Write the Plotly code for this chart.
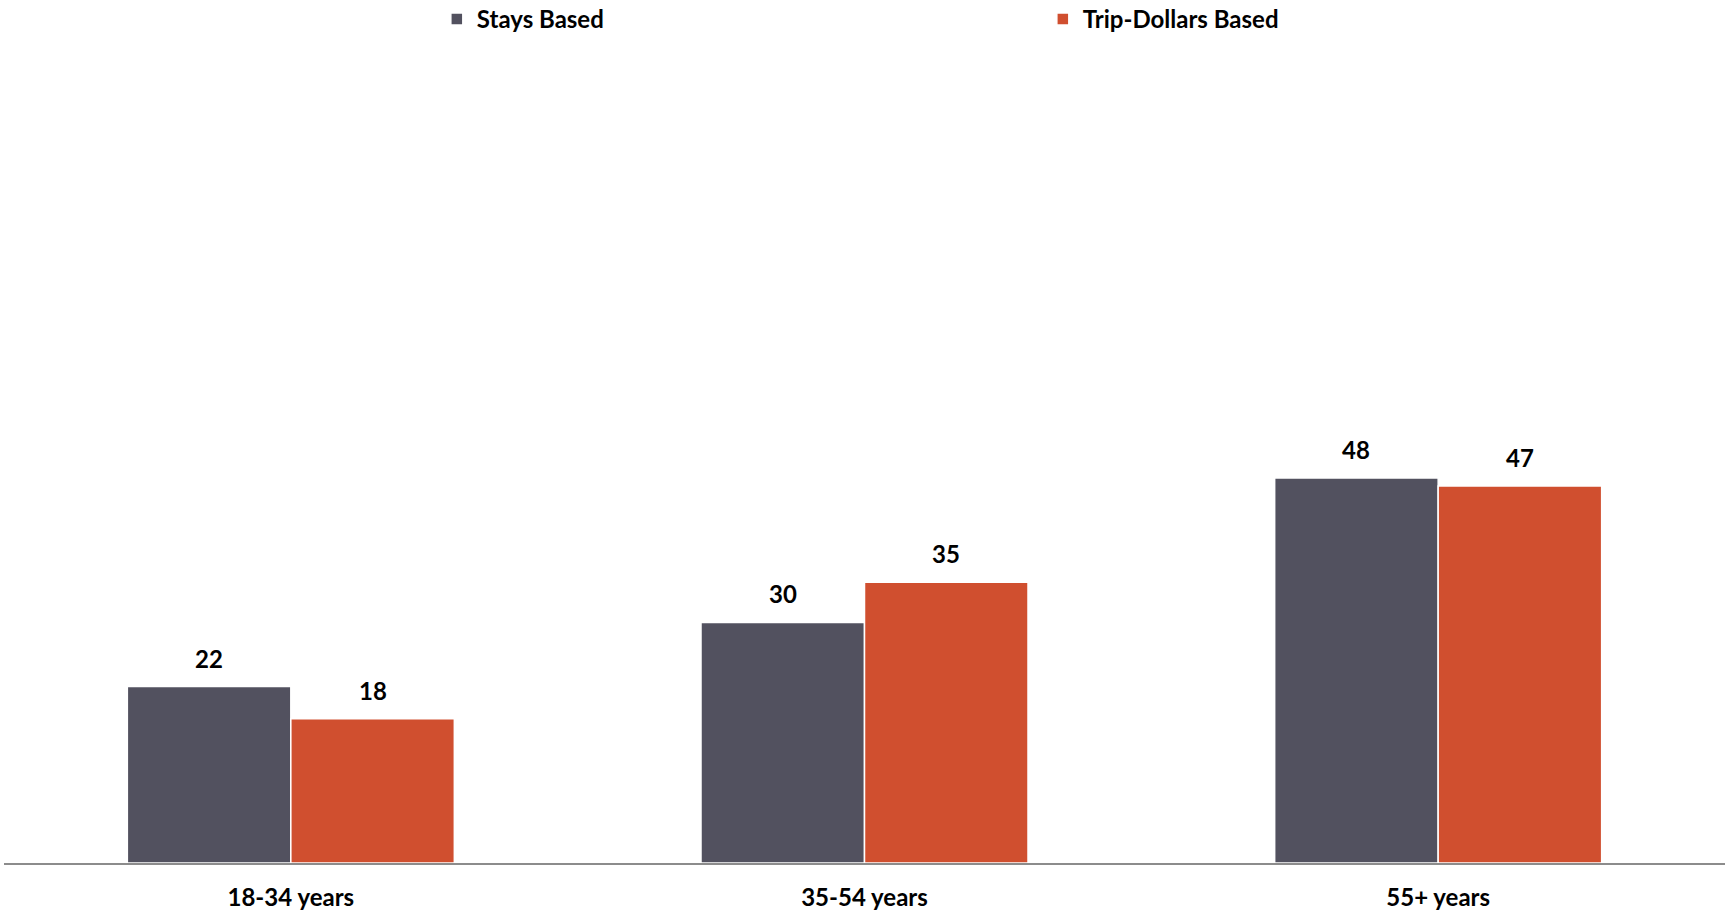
import plotly.graph_objects as go

categories = ["18-34 years", "35-54 years", "55+ years"]
stays_based = [22, 30, 48]
trip_dollars_based = [18, 35, 47]

FONT = "Lato"
BARGAP = 0.43
fig = go.Figure()
fig.add_trace(go.Bar(
    name="Stays Based", x=categories, y=stays_based,
    marker=dict(color="#52515f", line=dict(color="white", width=1.5)),
))
fig.add_trace(go.Bar(
    name="Trip-Dollars Based", x=categories, y=trip_dollars_based,
    marker=dict(color="#d04f2f", line=dict(color="white", width=1.5)),
))

W, H = 1729, 912
ML, MR = 4, 4
plot_w = W - ML - MR
bar_px = plot_w / len(categories) * (1 - BARGAP) / 2
for vals, sign in ((stays_based, -1), (trip_dollars_based, 1)):
    for c, v in zip(categories, vals):
        fig.add_annotation(
            x=c, y=v, xref="x", yref="y", text=str(v), showarrow=False,
            xshift=sign * bar_px / 2, yanchor="bottom", yshift=12,
            font=dict(family=FONT, size=24, color="black", weight="bold"),
        )

fig.update_layout(
    width=W, height=H,
    margin=dict(l=ML, r=MR, t=61, b=49, autoexpand=False),
    paper_bgcolor="white", plot_bgcolor="white",
    barmode="group", bargap=BARGAP, bargroupgap=0,
    font=dict(family=FONT, size=24, color="black"),
    legend=dict(
        orientation="h", x=0.2515, xanchor="left", y=1.052, yanchor="middle",
        yref="paper", entrywidth=561, entrywidthmode="pixels",
        font=dict(family=FONT, size=24, color="black", weight="bold"),
        itemwidth=30,
    ),
    xaxis=dict(showline=True, linecolor="#8c8c8c", linewidth=2, automargin=False,
               ticks="", tickfont=dict(family=FONT, size=24, weight="bold"),
               ticklabelstandoff=12),
    yaxis=dict(range=[0, 100], visible=False, automargin=False),
    showlegend=True,
)
fig.write_html("out.html")
